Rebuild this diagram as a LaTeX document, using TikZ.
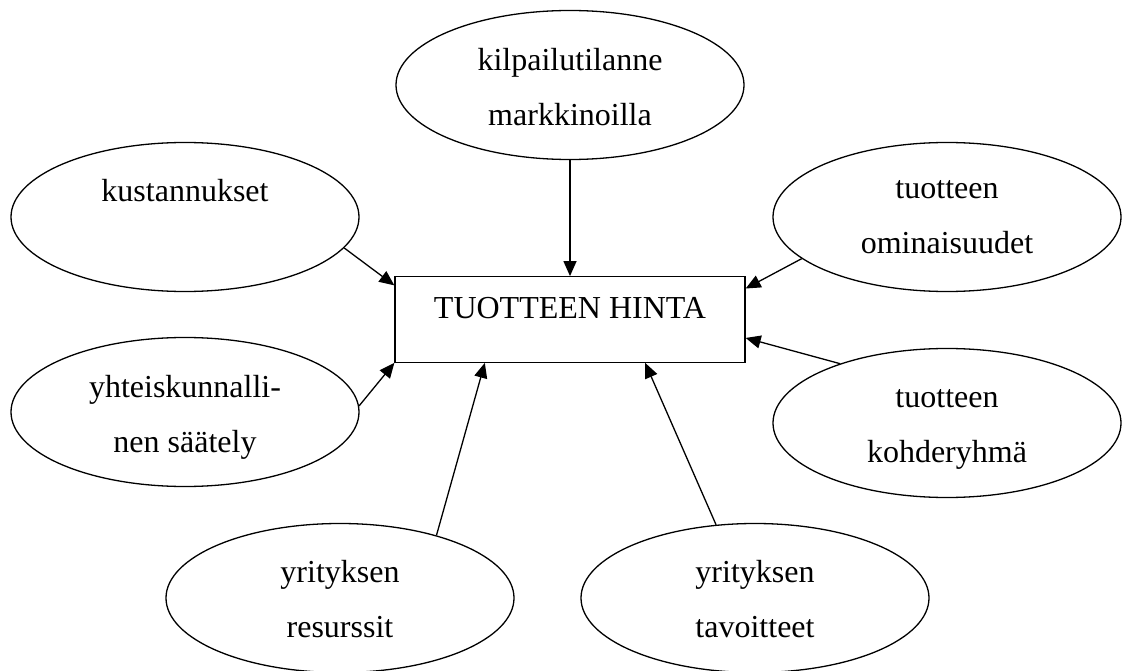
\documentclass[tikz,border=0pt]{standalone}
\usepackage{fontspec}
\setmainfont{Liberation Serif}
\usetikzlibrary{shapes.geometric,arrows.meta}
\begin{document}
\begin{tikzpicture}[x=1pt,y=-1pt,
  ell/.style={draw, ellipse, line width=1.3pt, minimum width=348pt, minimum height=149pt, inner sep=0pt},
  lbl/.style={font=\fontsize{32}{55}\selectfont, align=center, anchor=base, inner sep=0pt},
  pricebox/.style={draw, rectangle, line width=1.3pt, minimum width=350pt, minimum height=85.5pt, inner sep=0pt},
  arr/.style={-{Triangle[length=15pt,width=13pt]}, line width=1.3pt}]
\useasboundingbox (0,0) rectangle (1130,671);
% central box
\node[pricebox] (hinta) at (570,319.5) {};
\node[lbl] (hintaT) at (570,318) {TUOTTEEN HINTA};
% ellipses (two-line labels are anchored at the baseline of their last line)
\node[ell] (kil) at (570,85) {};
\node[lbl] (kilT) at (570,126) {kilpailutilanne\\markkinoilla};
\node[ell] (kust) at (185,217) {};
\node[lbl] (kustT) at (185,202) {kustannukset};
\node[ell] (omin) at (947,217) {};
\node[lbl] (ominT) at (947,254) {tuotteen\\ominaisuudet};
\node[ell] (yht) at (185,412) {};
\node[lbl] (yhtT) at (185,452) {yhteiskunnalli-\\nen säätely};
\node[ell] (kohd) at (947,423) {};
\node[lbl] (kohdT) at (947,462) {tuotteen\\kohderyhmä};
\node[ell] (res) at (340,598) {};
\node[lbl] (resT) at (340,637) {yrityksen\\resurssit};
\node[ell] (tav) at (755,598) {};
\node[lbl] (tavT) at (755,637) {yrityksen\\tavoitteet};
% arrows
\draw[arr] (kil.south) -- (hinta.north);
\draw[arr] (kust.-11) -- (hinta.169.8);
\draw[arr] (yht.2) -- (hinta.south west);
\draw[arr] (omin.196) -- (hinta.10.5);
\draw[arr] (kohd.151) -- (hinta.-6);
\draw[arr] (res.33.5) -- (hinta.207.4);
\draw[arr] (tav.118.4) -- (hinta.-30.7);
\end{tikzpicture}
\end{document}
